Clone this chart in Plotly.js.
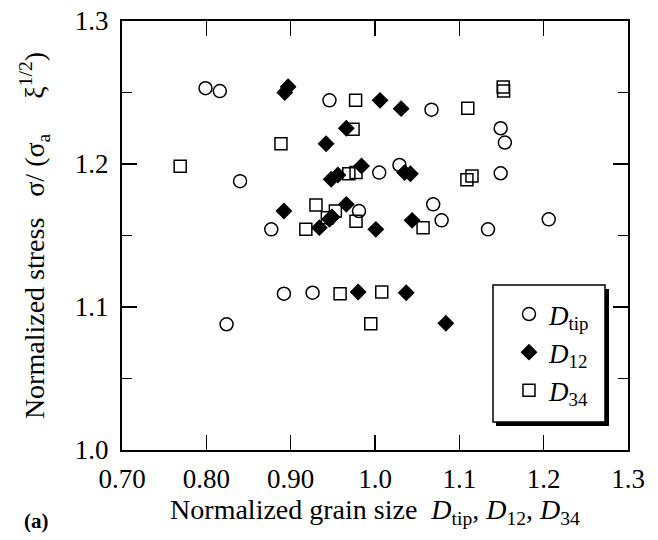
<!DOCTYPE html>
<html>
<head>
<meta charset="utf-8">
<script src="https://cdn.plot.ly/plotly-3.0.1.min.js"></script>
<style>html,body{margin:0;padding:0;background:#fff;}#plot{width:658px;height:540px;}</style>
</head>
<body>
<div id="plot"></div>
<script>
// D_tip (open circles)
const tipX = [0.799, 0.816, 0.946, 1.067, 1.149, 1.154, 1.149, 1.029, 1.005, 0.840, 0.981, 1.069, 1.079, 1.206, 1.134, 0.877, 0.892, 0.926, 0.824];
const tipY = [1.253, 1.251, 1.2445, 1.238, 1.225, 1.215, 1.1935, 1.1993, 1.194, 1.188, 1.1671, 1.1718, 1.1606, 1.1613, 1.1543, 1.1543, 1.1093, 1.110, 1.0879];

// D_12 (filled diamonds)
const d12X = [0.893, 0.897, 1.006, 1.031, 0.966, 0.942, 0.948, 0.956, 0.984, 1.035, 1.042, 0.966, 0.946, 0.949, 0.892, 0.934, 1.001, 1.044, 0.980, 1.037, 1.084];
const d12Y = [1.250, 1.254, 1.2445, 1.2387, 1.225, 1.2142, 1.1893, 1.1923, 1.1986, 1.194, 1.1932, 1.1718, 1.1613, 1.163, 1.1671, 1.1555, 1.1543, 1.1606, 1.1105, 1.110, 1.0886];

// D_34 (open squares)
const d34X = [0.977, 1.110, 1.152, 1.1525, 0.974, 0.8885, 0.769, 0.969, 0.9775, 1.109, 1.115, 0.930, 0.953, 0.9435, 0.9775, 0.918, 1.057, 0.9586, 1.008, 0.995];
const d34Y = [1.2445, 1.239, 1.2538, 1.251, 1.2243, 1.2142, 1.1984, 1.1932, 1.194, 1.189, 1.1916, 1.1713, 1.1671, 1.1624, 1.160, 1.1543, 1.1555, 1.1093, 1.1105, 1.0883];

const xTickVals = [0.7, 0.8, 0.9, 1.0, 1.1, 1.2, 1.3];
const xTickText = ['0.70', '0.80', '0.90', '1.0', '1.1', '1.2', '1.3'];
const yTickVals = [1.0, 1.1, 1.2, 1.3];
const yTickText = ['1.0', '1.1', '1.2', '1.3'];
const yMinorVals = [1.05, 1.15, 1.25];

const serif = 'Liberation Serif, Times New Roman, serif';

// plot area in pixels (for placing the framed legend box)
const PL = 122, PR = 628, PT = 21, PB = 450;
const W = 658, H = 540;
const px2x = p => (p - PL) / (PR - PL);
const px2y = p => (PB - p) / (PB - PT);

const traces = [
  {x: tipX, y: tipY, mode: 'markers', type: 'scatter', name: '<i>D</i><sub>tip</sub>',
   marker: {symbol: 'circle-open', size: 13, color: '#000', line: {width: 1.5, color: '#000'}}},
  {x: d12X, y: d12Y, mode: 'markers', type: 'scatter', name: '<i>D</i><sub>12</sub>',
   marker: {symbol: 'diamond', size: 13, color: '#000', line: {width: 0}}},
  {x: d34X, y: d34Y, mode: 'markers', type: 'scatter', name: '<i>D</i><sub>34</sub>',
   marker: {symbol: 'square-open', size: 12, color: '#000', line: {width: 1.5, color: '#000'}}}
];

const axisCommon = {
  showgrid: false, zeroline: false, showline: true, linecolor: '#000', linewidth: 2,
  mirror: 'ticks', ticks: 'inside', ticklen: 15, tickwidth: 1.3, tickcolor: '#000',
  tickfont: {family: serif, size: 27, color: '#000'}, tickmode: 'array'
};

const layout = {
  width: W, height: H,
  margin: {l: PL, r: W - PR, t: PT, b: H - PB},
  paper_bgcolor: '#fff', plot_bgcolor: '#fff',
  showlegend: true,
  legend: {x: px2x(509), y: px2y(290), xanchor: 'left', yanchor: 'top',
           borderwidth: 0, bgcolor: 'rgba(0,0,0,0)',
           font: {family: serif, size: 27, color: '#000'}},
  xaxis: Object.assign({}, axisCommon, {
    range: [0.7, 1.3], tickvals: xTickVals, ticktext: xTickText, ticklabelstandoff: 4,
    title: {text: 'Normalized grain size  <i>D</i><sub>tip</sub>, <i>D</i><sub>12</sub>, <i>D</i><sub>34</sub>',
            font: {family: serif, size: 28, color: '#000'}, standoff: 0}
  }),
  yaxis: Object.assign({}, axisCommon, {
    range: [1.0, 1.3], tickvals: yTickVals, ticktext: yTickText, ticklabelstandoff: 6,
    minor: {tickvals: yMinorVals, ticks: 'inside', ticklen: 10, tickwidth: 1.3, tickcolor: '#000'},
    title: {text: 'Normalized stress   σ/ (σ<sub>a</sub>     ξ<sup>1/2</sup>)',
            font: {family: serif, size: 28, color: '#000'}, standoff: 22}
  }),
  shapes: [
    {type: 'rect', xref: 'paper', yref: 'paper', layer: 'above',
     x0: px2x(496), x1: px2x(609), y0: px2y(289), y1: px2y(426),
     fillcolor: '#000', line: {width: 0}},
    {type: 'rect', xref: 'paper', yref: 'paper', layer: 'above',
     x0: px2x(493), x1: px2x(605), y0: px2y(285), y1: px2y(422),
     fillcolor: '#fff', line: {width: 1.5, color: '#000'}}
  ],
  annotations: [
    {text: '<b>(a)</b>', xref: 'paper', yref: 'paper', x: px2x(22), y: px2y(521),
     xanchor: 'left', yanchor: 'middle', showarrow: false,
     font: {family: serif, size: 21, color: '#000'}}
  ]
};

Plotly.newPlot('plot', traces, layout, {displayModeBar: false, staticPlot: true});
</script>
</body>
</html>
